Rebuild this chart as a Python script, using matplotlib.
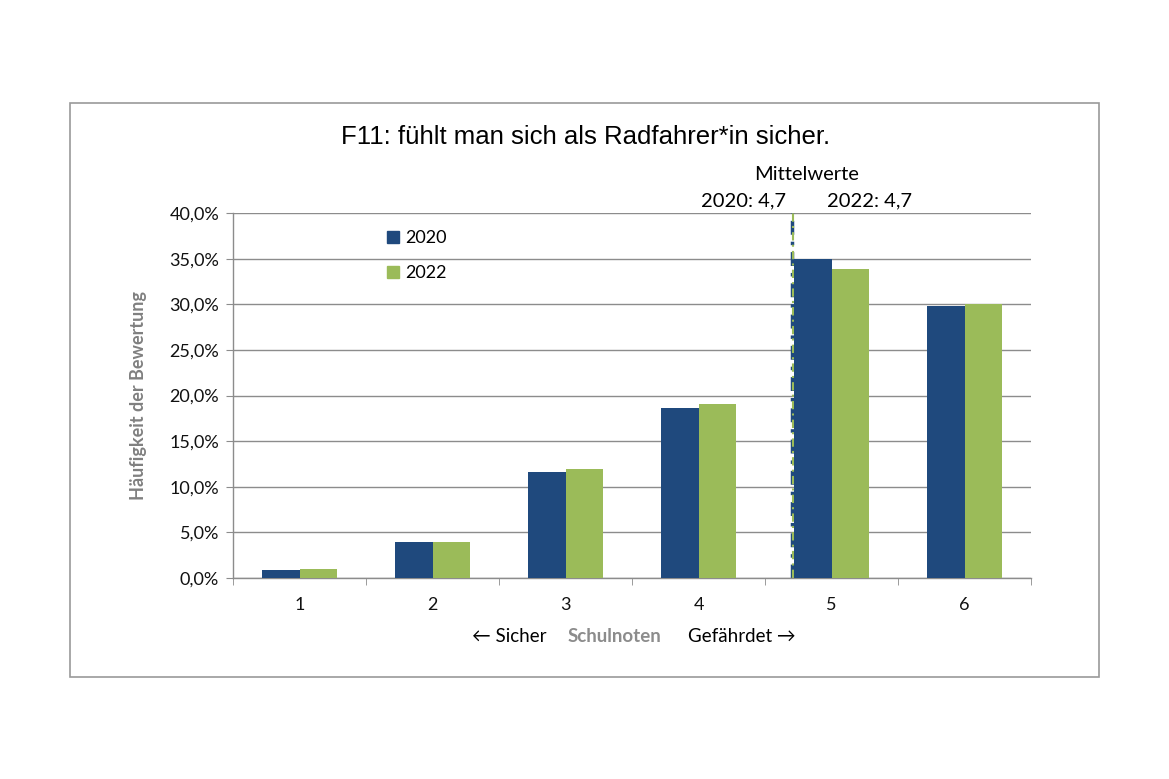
import matplotlib
matplotlib.use("Agg")
import matplotlib.pyplot as plt
import numpy as np
from matplotlib.patches import Rectangle, Patch
from matplotlib.ticker import FuncFormatter, MultipleLocator

categories = ["1", "2", "3", "4", "5", "6"]
values_2020 = [0.9, 4.0, 11.6, 18.6, 35.0, 29.8]
values_2022 = [1.0, 4.0, 12.0, 19.1, 33.9, 30.0]
series_names = ["2020", "2022"]
mean_2020 = 4.7
mean_2022 = 4.7
title = "F11: fühlt man sich als Radfahrer*in sicher."
ylabel = "Häufigkeit der Bewertung"

C_BLUE = "#1f497d"
C_GREEN = "#9bbb59"
GRID = "#8c8c8c"
FAM = ["Lato", "DejaVu Sans"]

W, H = 1169, 779
fig = plt.figure(figsize=(W / 100, H / 100), dpi=100)
fig.patch.set_facecolor("white")

# outer frame
fig.add_artist(Rectangle((70 / W, 1 - 677 / H), (1099 - 70) / W, (677 - 103) / H,
                         transform=fig.transFigure, fill=False, edgecolor="#9a9a9a", lw=1.2))

ax = fig.add_axes([233 / W, 1 - 578 / H, (1031 - 233) / W, (578 - 213) / H])
x = np.arange(len(categories))
bw = 0.285
ax.bar(x - bw / 2, values_2020, bw, color=C_BLUE, zorder=3, label=series_names[0])
ax.bar(x + bw / 2, values_2022, bw, color=C_GREEN, zorder=3, label=series_names[1])

ax.set_xlim(-0.5, len(categories) - 0.5)
ax.set_ylim(0, 40)
ax.yaxis.set_major_locator(MultipleLocator(5))
ax.yaxis.set_major_formatter(FuncFormatter(lambda v, p: f"{v:.1f}%".replace(".", ",")))
ax.grid(axis="y", color=GRID, lw=1.0, zorder=0)
ax.set_axisbelow(True)
for s in ["top", "right"]:
    ax.spines[s].set_visible(False)
for s in ["left", "bottom"]:
    ax.spines[s].set_color(GRID)
    ax.spines[s].set_linewidth(1.0)

ax.set_xticks(x)
ax.set_xticklabels(categories)
ax.set_xticks(np.arange(-0.5, len(categories)), minor=True)
ax.tick_params(axis="x", which="major", length=0, pad=14)
ax.tick_params(axis="x", which="minor", length=5, color=GRID, direction="out")
ax.tick_params(axis="y", length=5, color=GRID, direction="out", pad=5)
for lab in ax.get_xticklabels() + ax.get_yticklabels():
    lab.set_fontfamily(FAM)
    lab.set_fontsize(13)
    lab.set_color("#111111")

ax.set_ylabel(ylabel, fontsize=13, fontweight="bold", color="#808080", family=FAM)
ax.yaxis.set_label_coords(-0.108, 0.5)

# mean lines (category index: grade - 1)
ax.axvline(mean_2020 - 1, color=C_BLUE, lw=2.5, ls=(0, (4, 2, 1, 2)), zorder=2)
ax.axvline(mean_2022 - 1 + 0.012, color=C_GREEN, lw=1.5, ls=(0, (4, 2, 1, 2)), zorder=2)

# mean annotations
fig.text(807 / W, 1 - 174 / H, "Mittelwerte", ha="center", va="center", fontsize=14.5,
         family=FAM)
fig.text(786 / W, 1 - 201 / H, f"2020: {mean_2020:.1f}".replace(".", ","), ha="right", va="center",
         fontsize=14.5, family=FAM)
fig.text(827 / W, 1 - 201 / H, f"2022: {mean_2022:.1f}".replace(".", ","), ha="left", va="center",
         fontsize=14.5, family=FAM)

fig.text(586 / W, 1 - 137 / H, title, ha="center", va="center", fontsize=18.5,
         family=["Liberation Sans", "DejaVu Sans"])

# bottom axis description
fig.text(547 / W, 1 - 636 / H, "← Sicher", ha="right", va="center", fontsize=13.5, family=FAM)
fig.text(614 / W, 1 - 636 / H, "Schulnoten", ha="center", va="center", fontsize=13.5,
         fontweight="bold", color="#8c8c8c", family=FAM)
fig.text(688 / W, 1 - 636 / H, "Gefährdet →", ha="left", va="center", fontsize=13.5, family=FAM)

handles = [Patch(color=C_BLUE), Patch(color=C_GREEN)]
leg = ax.legend(handles, series_names, loc="upper left", bbox_to_anchor=(138 / 798, 0.997),
                frameon=False, handlelength=0.65, handleheight=0.65, handletextpad=0.35,
                labelspacing=1.05, prop={"family": FAM, "size": 13})

fig.savefig("out.png", dpi=100, facecolor="white")
